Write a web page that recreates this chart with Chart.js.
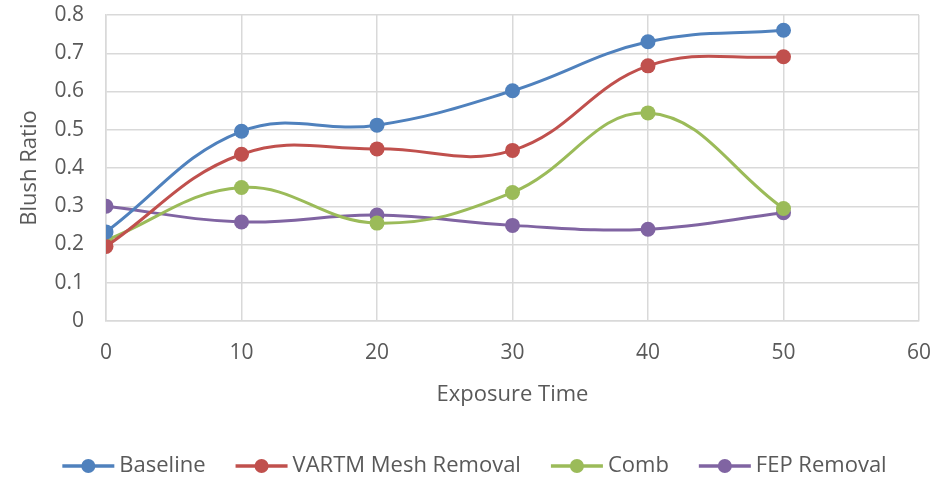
<!DOCTYPE html>
<html>
<head>
<meta charset="utf-8">
<script src="https://cdn.jsdelivr.net/npm/chart.js@4/dist/chart.umd.min.js"></script>
<style>
  html, body { margin: 0; padding: 0; background: #fff; }
  #wrap { width: 942px; height: 479px; }
</style>
</head>
<body>
<div id="wrap"><canvas id="blushChart"></canvas></div>
<script>
const exposureTimes = [0, 10, 20, 30, 40, 50];
const baseline = [0.233, 0.496, 0.512, 0.602, 0.730, 0.760];
const vartmMeshRemoval = [0.195, 0.436, 0.450, 0.446, 0.667, 0.691];
const comb = [0.211, 0.349, 0.256, 0.336, 0.544, 0.294];
const fepRemoval = [0.300, 0.259, 0.277, 0.250, 0.240, 0.283];
const seriesNames = ["Baseline", "VARTM Mesh Removal", "Comb", "FEP Removal"];
const seriesColors = ["#4F81BD", "#C0504D", "#9BBB59", "#8064A2"];

const fontFamily = "'Open Sans', 'Liberation Sans', sans-serif";
const textColor = "#595959";
const gridColor = "#d9d9d9";

const allSeries = [baseline, vartmMeshRemoval, comb, fepRemoval];
const datasets = allSeries.map((values, i) => ({
  label: seriesNames[i],
  data: values.map((v, j) => ({ x: exposureTimes[j], y: v })),
  borderColor: seriesColors[i],
  backgroundColor: seriesColors[i],
  borderWidth: 3,
  pointRadius: 7.5,
  pointHoverRadius: 7.5,
  pointBorderWidth: 0,
  tension: 0.4,
}));

// Excel style legend: line with a dot, then the name, one centred row
const excelLegend = {
  id: "excelLegend",
  afterDraw(chart) {
    const ctx = chart.ctx;
    const markerW = 52, gap = 5, itemGap = 30, y = 466;
    ctx.save();
    ctx.font = "22px " + fontFamily;
    const widths = chart.data.datasets.map(ds => ctx.measureText(ds.label).width);
    const total = widths.reduce((a, w) => a + markerW + gap + w, 0) + itemGap * (widths.length - 1);
    let x = 474.5 - total / 2;
    chart.data.datasets.forEach((ds, i) => {
      ctx.strokeStyle = ds.borderColor;
      ctx.fillStyle = ds.borderColor;
      ctx.lineWidth = 3.5;
      ctx.beginPath();
      ctx.moveTo(x, y);
      ctx.lineTo(x + markerW, y);
      ctx.stroke();
      ctx.beginPath();
      ctx.arc(x + markerW / 2, y, 7, 0, Math.PI * 2);
      ctx.fill();
      x += markerW + gap;
      ctx.fillStyle = textColor;
      ctx.textBaseline = "middle";
      ctx.textAlign = "left";
      ctx.fillText(ds.label, x, y);
      x += widths[i] + itemGap;
    });
    ctx.restore();
  },
};

// tick gaps come from invisible tick marks, so the scales don't add
// the tick padding to the chart area overhang
const hiddenTicks = { drawTicks: true, tickColor: "rgba(0,0,0,0)" };

new Chart(document.getElementById("blushChart"), {
  type: "line",
  data: { datasets: datasets },
  plugins: [excelLegend],
  options: {
    responsive: true,
    maintainAspectRatio: false,
    animation: false,
    layout: { padding: { top: 15, right: 23, left: 15, bottom: 47 } },
    plugins: {
      tooltip: { enabled: false },
      legend: { display: false },
    },
    scales: {
      x: {
        type: "linear",
        min: 0,
        max: 60,
        afterFit: s => { s.height = 111; },
        ticks: { stepSize: 10, color: textColor, font: { family: fontFamily, size: 21 }, padding: 0 },
        grid: { color: gridColor, lineWidth: 1.5, tickLength: 19, ...hiddenTicks },
        border: { color: gridColor, width: 1.5 },
        title: { display: true, text: "Exposure Time", color: textColor, font: { family: fontFamily, size: 22 }, padding: { top: 6, bottom: 24 } },
      },
      y: {
        min: 0,
        max: 0.8,
        afterFit: s => { s.width = 91; },
        ticks: { stepSize: 0.1, color: textColor, font: { family: fontFamily, size: 21 }, padding: 0 },
        grid: { color: gridColor, lineWidth: 1.5, tickLength: 22, ...hiddenTicks },
        border: { color: gridColor, width: 1.5 },
        title: { display: true, text: "Blush Ratio", color: textColor, font: { family: fontFamily, size: 22 }, padding: { top: 2, bottom: 4 } },
      },
    },
  },
});
</script>
</body>
</html>
